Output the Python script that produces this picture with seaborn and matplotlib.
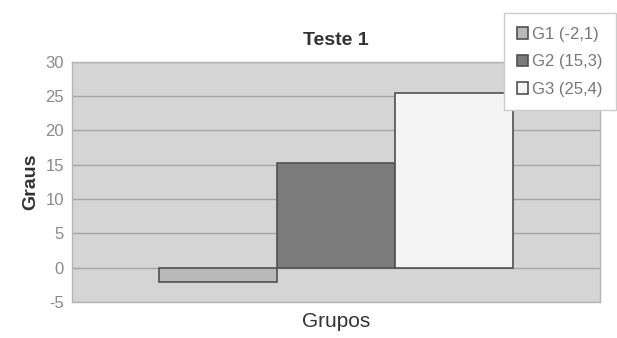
import pandas as pd
import matplotlib
matplotlib.use("Agg")
import matplotlib.pyplot as plt
import seaborn as sns

# data
groups = ["G1 (-2,1)", "G2 (15,3)", "G3 (25,4)"]
values = [-2.1, 15.3, 25.4]
bar_colors = ["#b9b9b9", "#7b7b7b", "#f4f4f4"]
y_ticks = [-5, 0, 5, 10, 15, 20, 25, 30]

df = pd.DataFrame({"x": ["Grupos"] * 3, "grupo": groups, "graus": values})

sns.set_style("white")
plt.rcParams["font.family"] = ["Liberation Sans", "DejaVu Sans"]

fig = plt.figure(figsize=(6.17, 3.38), dpi=100)
ax = fig.add_axes([0.117, 0.107, 0.855, 0.71])
ax.set_facecolor("#d5d5d5")

sns.barplot(data=df, x="x", y="graus", hue="grupo", palette=bar_colors,
            width=0.672, gap=0, edgecolor="#505050", linewidth=1.2,
            saturation=1, ax=ax, zorder=3)

ax.set_xlim(-0.5, 0.5)
ax.set_ylim(-5, 30)
ax.set_yticks(y_ticks)
ax.set_yticklabels([str(t) for t in y_ticks], color="#8a8a8a", fontsize=12)
ax.set_xticks([])
ax.grid(axis="y", color="#a5a5a5", linewidth=1, zorder=0)
ax.set_axisbelow(True)
for s in ax.spines.values():
    s.set_color("#b5b5b5")
    s.set_linewidth(1)
ax.tick_params(axis="y", length=4, color="#a0a0a0", pad=2)

ax.set_title("Teste 1", fontsize=14, fontweight="bold", color="#333333", pad=12)
ax.set_ylabel("Graus", fontsize=14, fontweight="bold", color="#333333", labelpad=4)
ax.set_xlabel("Grupos", fontsize=15, color="#333333", labelpad=7)

handles, labels = ax.get_legend_handles_labels()
ax.legend(handles, labels, loc="upper right", bbox_to_anchor=(1.012, 0.985),
          bbox_transform=fig.transFigure, frameon=True, fancybox=False,
          edgecolor="#cccccc", facecolor="white", framealpha=1,
          fontsize=12, handlelength=0.65, handleheight=0.7, handletextpad=0.25,
          labelspacing=0.75, borderpad=0.8, labelcolor="#777777")

fig.savefig("out.png", dpi=100)
